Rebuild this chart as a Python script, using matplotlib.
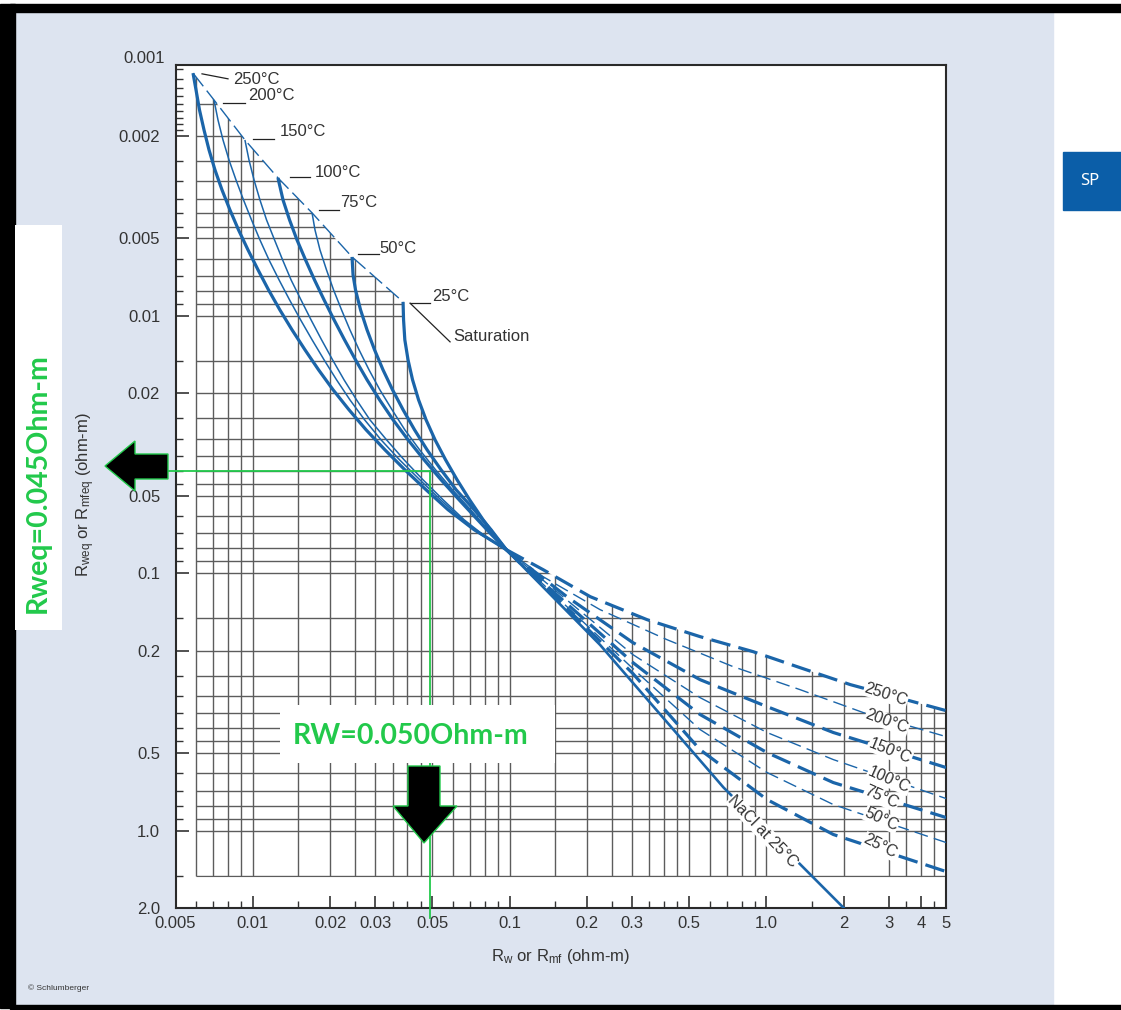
import numpy as np
import matplotlib.pyplot as plt
from matplotlib.patches import Rectangle, Polygon
from matplotlib.ticker import NullFormatter
from matplotlib.transforms import blended_transform_factory

plt.rcParams['font.family'] = ['Liberation Sans', 'DejaVu Sans']
plt.rcParams['mathtext.default'] = 'regular'

BLUE = '#1b65a9'
GREEN = '#22c94b'
PANEL = '#dde4f0'
GRID = '#5c5c5c'
W, H = 1121, 1010

# ---- data ----
sat_x = [0.00585, 0.00706, 0.00932, 0.01253, 0.01701, 0.02434, 0.03846]
sat_y = [0.00114, 0.001449, 0.002073, 0.002911, 0.00398, 0.005902, 0.008825]
temps = ['250°C', '200°C', '150°C', '100°C', '75°C', '50°C', '25°C']

s250_x = [0.00585, 0.00601, 0.0062, 0.006456, 0.006753, 0.007123, 0.007587, 0.008146, 0.008796,
          0.009577, 0.01048, 0.01151, 0.01274, 0.01421, 0.01596, 0.01803, 0.02053, 0.02368,
          0.0276, 0.03266, 0.03907, 0.04725, 0.05755, 0.0727, 0.097]
s250_y = [0.00114, 0.001325, 0.001585, 0.001895, 0.002266, 0.00271, 0.003242, 0.003876, 0.004634,
          0.005543, 0.006629, 0.007925, 0.009478, 0.01133, 0.01355, 0.01621, 0.01938, 0.02317,
          0.02772, 0.03314, 0.03964, 0.0474, 0.05667, 0.06778, 0.081]
s200_x = [0.00706, 0.007318, 0.007655, 0.008078, 0.0086, 0.009199, 0.009885, 0.01066, 0.01156,
          0.01265, 0.0139, 0.01534, 0.01701, 0.01894, 0.02118, 0.02388, 0.02723, 0.03156,
          0.03724, 0.04468, 0.05381, 0.06557, 0.07738, 0.097]
s200_y = [0.001449, 0.001733, 0.002073, 0.002479, 0.002964, 0.003545, 0.004239, 0.00507, 0.006061,
          0.007248, 0.008668, 0.01036, 0.01239, 0.01482, 0.01772, 0.0212, 0.02534, 0.03031,
          0.03624, 0.04335, 0.05183, 0.06197, 0.07087, 0.081]
s150_x = [0.009317, 0.009663, 0.01011, 0.01066, 0.01131, 0.01215, 0.01306, 0.01409, 0.0154,
          0.01685, 0.01852, 0.02044, 0.02265, 0.02534, 0.02856, 0.03315, 0.03879, 0.04598,
          0.05505, 0.06645, 0.0788, 0.097]
s150_y = [0.002073, 0.002479, 0.002964, 0.003545, 0.004239, 0.00507, 0.006061, 0.007248, 0.008668,
          0.01036, 0.01239, 0.01482, 0.01772, 0.0212, 0.02534, 0.03031, 0.03624, 0.04335,
          0.05183, 0.06197, 0.07087, 0.081]
s100_x = [0.01253, 0.01311, 0.0139, 0.01486, 0.01604, 0.01738, 0.01894, 0.02071, 0.02275,
          0.02511, 0.02784, 0.03115, 0.03515, 0.04021, 0.04641, 0.05406, 0.06353, 0.07499,
          0.08502, 0.097]
s100_y = [0.002911, 0.003545, 0.004239, 0.00507, 0.006061, 0.007248, 0.008668, 0.01036, 0.01239,
          0.01482, 0.01772, 0.0212, 0.02534, 0.03031, 0.03624, 0.04335, 0.05183, 0.06197,
          0.07087, 0.081]
s75_x = [0.01701, 0.01746, 0.01826, 0.01936, 0.02062, 0.02215, 0.02388, 0.02592, 0.02834,
         0.03123, 0.03484, 0.03907, 0.04459, 0.05146, 0.05991, 0.07044, 0.0824, 0.097]
s75_y = [0.00398, 0.004634, 0.005543, 0.006629, 0.007925, 0.009478, 0.01133, 0.01355, 0.01621,
         0.01938, 0.02317, 0.02772, 0.03314, 0.03964, 0.0474, 0.05667, 0.06778, 0.081]
s50_x = [0.02434, 0.02456, 0.02511, 0.02627, 0.02784, 0.02978, 0.03213, 0.03499, 0.03846,
         0.04262, 0.04768, 0.05406, 0.06186, 0.0727, 0.08465, 0.097]
s50_y = [0.005902, 0.006931, 0.007925, 0.009478, 0.01133, 0.01355, 0.01621, 0.01938, 0.02317,
         0.02772, 0.03314, 0.03964, 0.0474, 0.05667, 0.06778, 0.081]
s25_x = [0.03846, 0.03863, 0.03907, 0.04021, 0.04187, 0.04419, 0.04725, 0.05122, 0.05628,
         0.06241, 0.06981, 0.07879, 0.08696, 0.097]
s25_y = [0.008825, 0.01036, 0.01239, 0.01482, 0.01772, 0.0212, 0.02534, 0.03031, 0.03624,
         0.04335, 0.05183, 0.06197, 0.07087, 0.081]

d250_x = [0.097, 0.135, 0.206, 0.343, 0.551, 0.887, 1.35, 2.12, 5.0]
d250_y = [0.081, 0.0969, 0.1234, 0.1516, 0.1764, 0.2018, 0.2328, 0.271, 0.342]
d200_x = [0.097, 0.135, 0.225, 0.41, 0.741, 1.35, 2.38, 5.0]
d200_y = [0.081, 0.1032, 0.1386, 0.1813, 0.2307, 0.2834, 0.348, 0.4315]
d150_x = [0.097, 0.167, 0.302, 0.551, 1.005, 1.82, 5.0]
d150_y = [0.081, 0.1234, 0.1862, 0.2592, 0.330, 0.416, 0.569]
dlow_x = [0.097, 0.172, 0.302, 0.551, 1.005, 1.82, 5.0]
d100_y = [0.081, 0.1302, 0.2073, 0.3044, 0.416, 0.530, 0.751]
d75_y = [0.081, 0.1349, 0.2226, 0.354, 0.498, 0.651, 0.890]
d50_y = [0.081, 0.1386, 0.2349, 0.405, 0.595, 0.7925, 1.113]
d25_y = [0.081, 0.1411, 0.2456, 0.485, 0.758, 1.036, 1.443]

nacl_x = [0.097, 0.225, 0.68, 2.0]
nacl_y = [0.081, 0.19, 0.68, 2.0]

rw_mark = 0.049
rweq_mark = 0.04

grid_x = [0.006, 0.007, 0.008, 0.009, 0.01, 0.015, 0.02, 0.025, 0.03, 0.035, 0.04, 0.045,
          0.05, 0.06, 0.07, 0.08, 0.09, 0.1, 0.15, 0.2, 0.25, 0.3, 0.35, 0.4, 0.45,
          0.5, 0.6, 0.7, 0.8, 0.9, 1.0, 1.5, 2, 3, 3.5, 4, 4.5]
grid_y = [0.0015, 0.002, 0.0025, 0.003, 0.0035, 0.004, 0.0045, 0.005, 0.006, 0.007, 0.008,
          0.009, 0.01, 0.015, 0.02, 0.025, 0.03, 0.035, 0.04, 0.045, 0.05, 0.06, 0.07,
          0.08, 0.09, 0.1, 0.15, 0.2, 0.25, 0.3, 0.35, 0.4, 0.45, 0.5, 0.6, 0.7, 0.8,
          0.9, 1.0, 1.5]

x_major = [0.005, 0.01, 0.02, 0.03, 0.05, 0.1, 0.2, 0.3, 0.5, 1.0, 2, 3, 4, 5]
x_labels = ['0.005', '0.01', '0.02', '0.03', '0.05', '0.1', '0.2', '0.3', '0.5', '1.0',
            '2', '3', '4', '5']
y_major = [0.002, 0.005, 0.01, 0.02, 0.05, 0.1, 0.2, 0.5, 1.0, 2.0]
y_labels = ['0.002', '0.005', '0.01', '0.02', '0.05', '0.1', '0.2', '0.5', '1.0', '2.0']
y_extra = [0.0011, 0.0012, 0.0013, 0.0014, 0.0016, 0.0017, 0.0018, 0.0019]


def fx(px):
    return px / W


def fy(py):
    return 1 - py / H


fig = plt.figure(figsize=(W / 100, H / 100), dpi=100)
fig.patch.set_facecolor('white')

# page background and borders
fig.add_artist(Rectangle((fx(15), fy(1005)), fx(1053) - fx(15), fy(12) - fy(1005),
                         transform=fig.transFigure, color=PANEL, zorder=-10))
fig.add_artist(Rectangle((fx(10), fy(12)), 1 - fx(10), fy(4) - fy(12),
                         transform=fig.transFigure, color='black', zorder=-9))
fig.add_artist(Rectangle((0, fy(1008)), fx(15), fy(4) - fy(1008),
                         transform=fig.transFigure, color='black', zorder=-9))
fig.add_artist(Rectangle((fx(10), fy(1009)), 1 - fx(10), fy(1005) - fy(1009),
                         transform=fig.transFigure, color='black', zorder=-9))
fig.add_artist(Rectangle((fx(1063), fy(210)), fx(1121) - fx(1063), fy(152) - fy(210),
                         transform=fig.transFigure, color='#0b5ea8', zorder=-9))
fig.text(fx(1090), fy(181), 'SP', color='white', fontsize=12, ha='center', va='center',
         family='Noto Sans', fontweight='semibold')

ax = fig.add_axes([fx(175.5), fy(908), fx(946) - fx(175.5), fy(65) - fy(908)])
ax.set_xscale('log')
ax.set_yscale('log')
ax.set_xlim(0.005, 5)
ax.set_ylim(2.0, 0.00106)
ax.set_facecolor('white')

# grid only below the saturation line / upper envelope
env = [(0.00595, 1.52), (0.00595, sat_y[0])] + list(zip(sat_x, sat_y)) \
    + list(zip(s25_x[1:], s25_y[1:])) + list(zip(d250_x[1:], d250_y[1:])) + [(5.2, 1.52)]
clip = Polygon(env, closed=True, transform=ax.transData)
vl = ax.vlines(grid_x, 0.001, 1.5, colors=GRID, lw=1.0, zorder=1)
hl = ax.hlines(grid_y, 0.006, 5, colors=GRID, lw=1.0, zorder=1)
vl.set_clip_path(clip)
hl.set_clip_path(clip)

# saturation line
ax.plot(sat_x, sat_y, color=BLUE, lw=1.0, ls=(0, (12, 4)), zorder=3)

solid = [(s250_x, s250_y, 2.3), (s200_x, s200_y, 1.1), (s150_x, s150_y, 1.1),
         (s100_x, s100_y, 2.3), (s75_x, s75_y, 1.1), (s50_x, s50_y, 2.3), (s25_x, s25_y, 2.3)]
for xs, ys, lw in solid:
    ax.plot(xs, ys, color=BLUE, lw=lw, solid_capstyle='butt', solid_joinstyle='round', zorder=3)

thick = dict(lw=2.3, ls=(0, (6.2, 2.6)))
thin = dict(lw=1.0, ls=(0, (10, 4.5)))
dashed = [(d250_x, d250_y, thick), (d200_x, d200_y, thin), (d150_x, d150_y, thick),
          (dlow_x, d100_y, thin), (dlow_x, d75_y, thick), (dlow_x, d50_y, thin),
          (dlow_x, d25_y, thick)]
for xs, ys, st in dashed:
    ax.plot(xs, ys, color=BLUE, zorder=3, **st)
ax.plot(nacl_x, nacl_y, color=BLUE, lw=1.9, zorder=3)


# temperature labels at the saturation line
def off(x, y, dx, dy):
    p = ax.transData.transform((x, y))
    return ax.transData.inverted().transform((p[0] + dx, p[1] + dy))


lead = [((9, -0.7), (35, -5.7), (40, -6.7)),
        ((9, -2.7), (31, -2.7), (34, 4)),
        ((8, 0.7), (29, 0.7), (35, 8.3)),
        ((12, 1), (32, 1), (37, 5.6)),
        ((7, 2.6), (27, 2.6), (28, 10)),
        ((6, 3.4), (27, 3.4), (27, 8.4)),
        ((7, -1.6), (27, -1.6), (29, 5))]
for t, sx, sy, (a, b, c) in zip(temps, sat_x, sat_y, lead):
    p1 = off(sx, sy, *a)
    p2 = off(sx, sy, *b)
    ax.plot([p1[0], p2[0]], [p1[1], p2[1]], color='#222222', lw=0.9, clip_on=False, zorder=4)
    ax.annotate(t, (sx, sy), xytext=c, textcoords='offset pixels', ha='left', va='center',
                fontsize=12, color='#333333', zorder=4)
p1 = off(sat_x[-1], sat_y[-1], 7, -1.3)
p2 = off(sat_x[-1], sat_y[-1], 47, -40)
ax.plot([p1[0], p2[0]], [p1[1], p2[1]], color='#222222', lw=0.9, zorder=4)
ax.annotate('Saturation', (sat_x[-1], sat_y[-1]), xytext=(50, -34.3),
            textcoords='offset pixels', ha='left', va='center', fontsize=12, color='#333333')

# labels on dashed curves
lab_x = [2.92, 2.95, 3.03, 3.0, 2.8, 2.8, 2.77]
lab_y = [0.296, 0.377, 0.493, 0.634, 0.744, 0.906, 1.153]
lab_rot = [-18, -20, -22, -24, -24, -25, -27]
for t, x, y, r in zip(temps, lab_x, lab_y, lab_rot):
    ax.text(x, y, t, rotation=r, rotation_mode='anchor', ha='center', va='center',
            fontsize=11.5, color='#333333', zorder=5,
            bbox=dict(facecolor='white', edgecolor='none', pad=0.3))
ax.text(0.97, 1.01, 'NaCl at 25°C', rotation=-46, rotation_mode='anchor', ha='center',
        va='center', fontsize=11.5, color='#333333', zorder=5,
        bbox=dict(facecolor='white', edgecolor='none', pad=0.3))

# green reading lines
ax.plot([0.00468, rw_mark], [rweq_mark, rweq_mark], color=GREEN, lw=1.3, clip_on=False, zorder=6)
ax.plot([rw_mark, rw_mark], [rweq_mark, 2.18], color=GREEN, lw=1.3, clip_on=False, zorder=6)

# ticks
ax.set_xticks(x_major)
ax.set_xticklabels(x_labels)
ax.set_xticks([v for v in grid_x if v not in x_major], minor=True)
ax.set_yticks(y_major)
ax.set_yticklabels(y_labels)
ax.set_yticks([v for v in grid_y if v not in y_major] + y_extra, minor=True)
ax.xaxis.set_minor_formatter(NullFormatter())
ax.yaxis.set_minor_formatter(NullFormatter())
ax.tick_params(which='both', direction='in', top=False, right=False, color='#333333',
               labelsize=12, labelcolor='#333333')
ax.tick_params(which='major', length=9, width=1.2)
ax.tick_params(which='minor', length=5, width=1.0)
ax.tick_params(axis='x', pad=6)
ax.tick_params(axis='y', pad=11)
ax.text(-0.0143, 0.001, '0.001', transform=blended_transform_factory(ax.transAxes, ax.transData),
        ha='right', va='center', fontsize=12, color='#333333', clip_on=False)
for s in ax.spines.values():
    s.set_linewidth(1.5)
    s.set_color('#2a2a2a')

fig.text(fx(560), fy(957), 'R$_{w}$ or R$_{mf}$ (ohm-m)', ha='center', va='center',
         fontsize=12, color='#333333')
fig.text(fx(86), fy(495), 'R$_{weq}$ or R$_{mfeq}$ (ohm-m)', ha='center', va='center',
         rotation=90, fontsize=12, color='#333333')
fig.text(fx(28), fy(988), '© Schlumberger', ha='left', va='center', fontsize=6, color='#333333')

# annotation boxes and arrows
fig.add_artist(Rectangle((fx(15), fy(630)), fx(62) - fx(15), fy(225) - fy(630),
                         transform=fig.transFigure, facecolor='white', edgecolor='none', zorder=2))
fig.text(fx(38), fy(483), 'Rweq=0.045Ohm-m', rotation=90, ha='center', va='center',
         color=GREEN, fontsize=20.5, fontweight='bold', family='Lato', zorder=3)
fig.add_artist(Rectangle((fx(280), fy(763)), fx(555) - fx(280), fy(705) - fy(763),
                         transform=fig.transFigure, facecolor='white', edgecolor='none', zorder=2))
fig.text(fx(411), fy(736), 'RW=0.050Ohm-m', ha='center', va='center',
         color=GREEN, fontsize=20.5, fontweight='bold', family='Lato', zorder=3)

left_arrow = [(105, 466), (135, 441), (135, 454), (168, 454), (168, 479), (135, 479), (135, 491)]
down_arrow = [(408, 766), (440, 766), (440, 806), (457, 806), (424, 843), (393, 806), (408, 806)]
for shape in (left_arrow, down_arrow):
    fig.add_artist(Polygon([(fx(a), fy(b)) for a, b in shape], closed=True,
                           transform=fig.transFigure, facecolor='black',
                           edgecolor=GREEN, lw=1.0, zorder=4))

fig.savefig('out.png', dpi=100)
